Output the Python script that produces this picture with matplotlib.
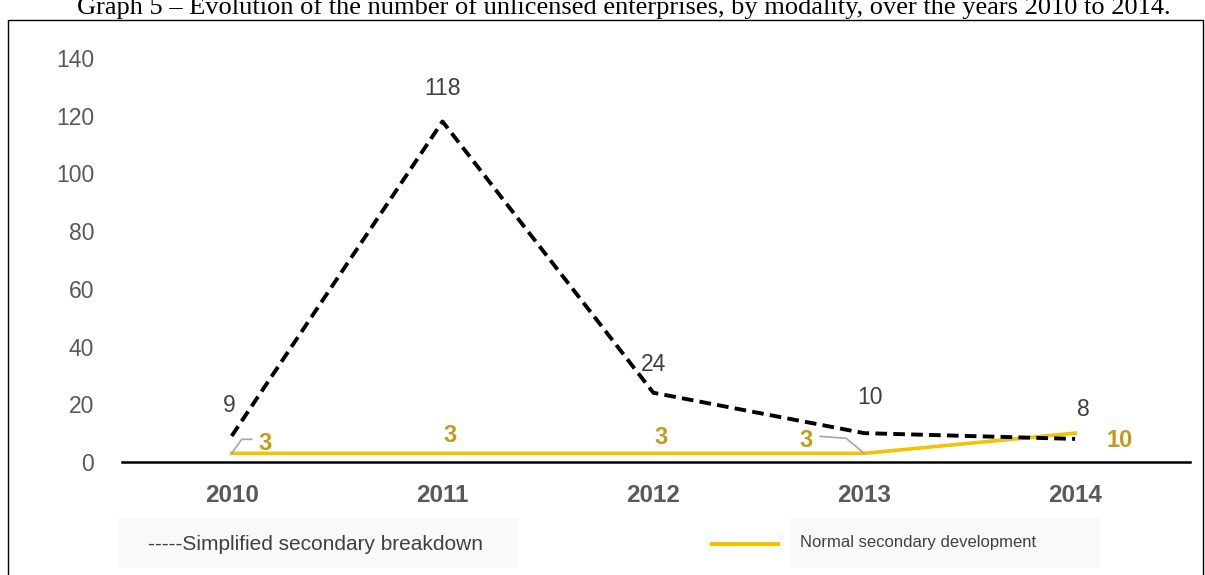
import numpy as np
import matplotlib
matplotlib.use('agg')
import matplotlib.pyplot as plt
from matplotlib.lines import Line2D
from matplotlib.patches import Rectangle
from matplotlib.transforms import IdentityTransform

#%% Data

years = ['2010', '2011', '2012', '2013', '2014']
simplified = [9, 118, 24, 10, 8]
normal = [3, 3, 3, 3, 10]
y_ticks = [0, 20, 40, 60, 80, 100, 120, 140]

title = ("Graph 5 \u2013 Evolution of the number of unlicensed enterprises, "
         "by modality, over the years 2010 to 2014.")
lab_simplified = "-----Simplified secondary breakdown"
lab_normal = "Normal secondary development"

yellow = '#F2C300'
yellow_txt = '#C29B1C'
grey_txt = '#595959'
dark_txt = '#404040'

plt.rcParams['font.family'] = ['Liberation Sans', 'DejaVu Sans']

W, H = 1205, 575
fig = plt.figure(figsize=(W/100, H/100), dpi=100)

def px(x, y):
    # pixel (from top-left) -> figure fraction
    return x/W, 1 - y/H

ax = fig.add_axes([122/W, (H-462)/H, (1190-122)/W, (462-58)/H])
x = np.arange(len(years))

ax.plot(x, normal, color=yellow, lw=2.6, clip_on=False, zorder=3)
ax.plot(x, simplified, color='black', lw=2.8, dashes=(3, 1.6), clip_on=False, zorder=4)

ax.set_xlim(-0.52, 4.545)
ax.set_ylim(0, 140)
ax.set_yticks(y_ticks)
ax.set_yticklabels([str(v) for v in y_ticks], fontsize=16.5, color=grey_txt)
ax.set_xticks(x)
ax.set_xticklabels(years, fontsize=17.5, fontweight='bold', color=grey_txt)
ax.tick_params(axis='both', length=0)
ax.tick_params(axis='y', pad=20)
ax.tick_params(axis='x', pad=16)
for s in ['top', 'right', 'left']:
    ax.spines[s].set_visible(False)
ax.spines['bottom'].set_linewidth(1.8)
ax.spines['bottom'].set_color('black')

# data labels (offsets in pixels)
blk_off = [(-2, 31), (0, 33), (0, 28), (6, 36), (8, 29)]
for i, v in enumerate(simplified):
    dx, dy = blk_off[i]
    ax.annotate(str(v), (x[i], v), xytext=(dx*0.72, dy*0.72), textcoords='offset points',
                ha='center', va='center', fontsize=16.5, color=dark_txt)

yel_off = [(33, 10), (8, 18), (8, 16), (-58, 13), (45, -7)]
for i, v in enumerate(normal):
    dx, dy = yel_off[i]
    ax.annotate(str(v), (x[i], v), xytext=(dx*0.72, dy*0.72), textcoords='offset points',
                ha='center', va='center', fontsize=17, fontweight='bold', color=yellow_txt)

# leader lines
fig.canvas.draw()
leaders = [(0, [(0, 0), (10, 14), (20, 14)]), (3, [(0, 0), (-18, 15), (-44, 17)])]
for i, pts in leaders:
    bx, by = ax.transData.transform((x[i], normal[i]))
    xs = [bx + p[0] for p in pts]
    ys = [by + p[1] for p in pts]
    fig.add_artist(Line2D(xs, ys, color='#A6A6A6', lw=1.2, transform=IdentityTransform()))

# title and frame (the title is cut by the top edge, as in the source)
fig.text(*px(624, 14), title, ha='center', va='baseline', fontsize=19,
         family=['Liberation Serif', 'DejaVu Serif'], color='black')
fx0, fy0 = px(8, 20)
fx1, fy1 = px(1203, 575)
fig.add_artist(Line2D([fx0, fx0, fx1, fx1], [fy1, fy0, fy0, fy1], color='black', lw=1.0))

# legend
fig.add_artist(Rectangle(px(118, 568), 400/W, 50/H, color='#F9F9F9', lw=0, zorder=0))
fig.add_artist(Rectangle(px(790, 568), 310/W, 50/H, color='#F9F9F9', lw=0, zorder=0))
fig.text(*px(148, 545), lab_simplified, ha='left', va='center', fontsize=15,
         family=['Liberation Sans Narrow', 'Liberation Sans'], color=dark_txt)
lx0, ly = px(712, 544)
lx1, _ = px(778, 544)
fig.add_artist(Line2D([lx0, lx1], [ly, ly], color=yellow, lw=3.0))
fig.text(*px(800, 543), lab_normal, ha='left', va='center', fontsize=12,
         family=['Liberation Sans Narrow', 'Liberation Sans'], color=dark_txt)

fig.savefig('out.png', dpi=100)
